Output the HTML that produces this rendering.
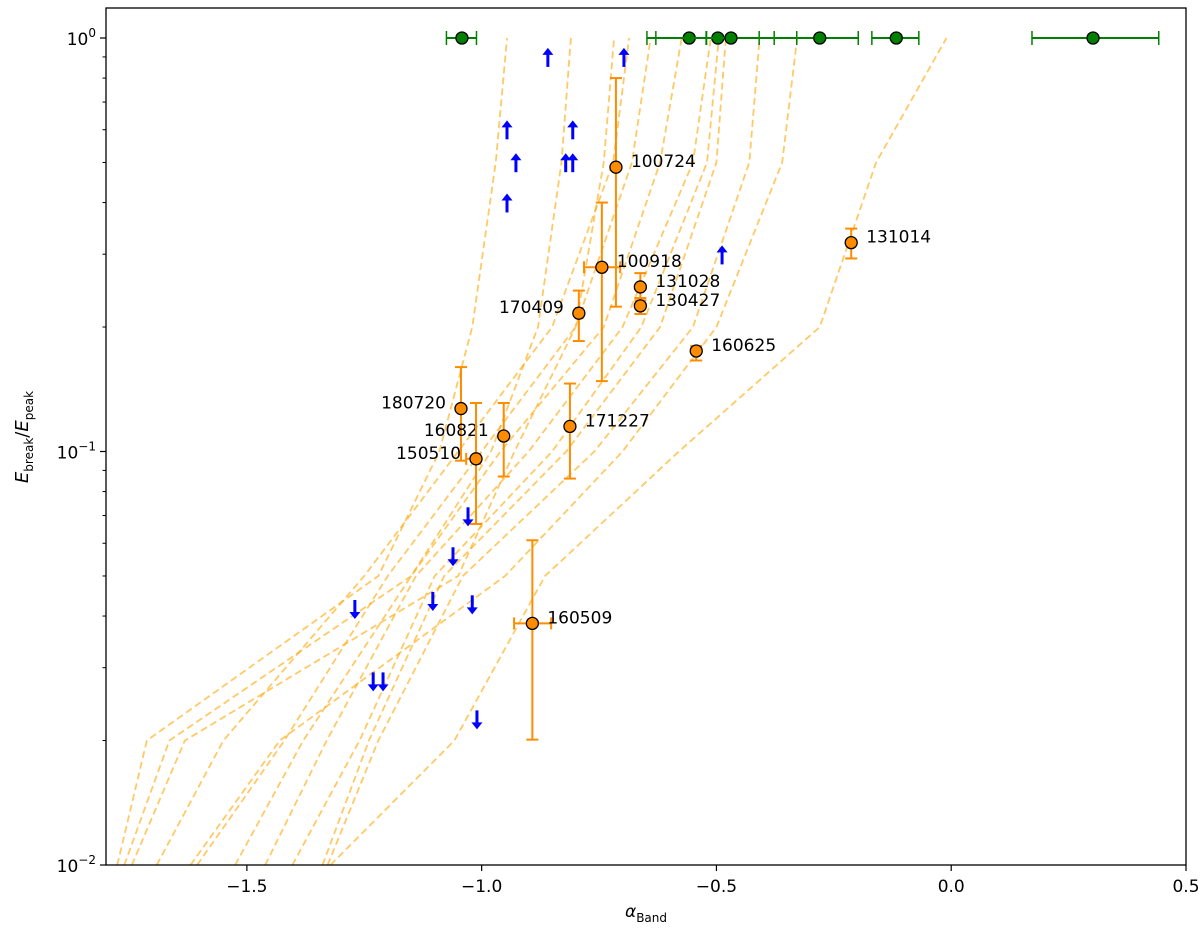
<!DOCTYPE html>
<html><head><meta charset="utf-8"><style>
body{margin:0;background:#fff;}
svg{font-family:"DejaVu Sans","Liberation Sans",sans-serif;}
</style></head><body>
<svg id="chart" width="1200" height="928" xmlns="http://www.w3.org/2000/svg"></svg>
<script>
const ratios=[0.01,0.02,0.05,0.1,0.2,0.5,1.0];
const track1=[-1.776,-1.713,-1.22,-1.09,-1.02,-0.97,-0.946];
const track2=[-1.761,-1.665,-1.15,-0.98,-0.88,-0.83,-0.810];
const track3=[-1.745,-1.632,-1.05,-0.93,-0.80,-0.74,-0.718];
const track4=[-1.692,-1.55,-1.25,-1.05,-0.85,-0.72,-0.686];
const track5=[-1.606,-1.42,-1.20,-1.00,-0.80,-0.68,-0.640];
const track6=[-1.525,-1.38,-1.15,-0.96,-0.74,-0.62,-0.574];
const track7=[-1.461,-1.33,-1.14,-0.90,-0.70,-0.55,-0.512];
const track8=[-1.403,-1.26,-1.10,-0.85,-0.66,-0.52,-0.495];
const track9=[-1.339,-1.24,-1.08,-0.82,-0.62,-0.50,-0.480];
const track10=[-1.328,-1.22,-1.04,-0.76,-0.55,-0.43,-0.408];
const track11=[-1.62,-1.43,-0.95,-0.70,-0.50,-0.36,-0.328];
const track12=[-1.322,-1.058,-0.865,-0.58,-0.28,-0.16,-0.010];
const tracks=[track1,track2,track3,track4,track5,track6,track7,track8,track9,track10,track11,track12];

const grbNames=["100724","100918","131028","130427","170409","131014","160625","180720","160821","150510","171227","160509"];
const grbAlpha=[-0.714,-0.744,-0.662,-0.662,-0.793,-0.213,-0.543,-1.044,-0.953,-1.012,-0.812,-0.892];
const grbAlphaLo=[-0.714,-0.782,-0.662,-0.662,-0.800,-0.213,-0.543,-1.044,-0.953,-1.033,-0.812,-0.931];
const grbAlphaHi=[-0.714,-0.705,-0.662,-0.662,-0.785,-0.213,-0.543,-1.044,-0.953,-1.003,-0.812,-0.852];
const grbRatio=[0.487,0.279,0.250,0.225,0.216,0.320,0.175,0.127,0.109,0.096,0.115,0.0384];
const grbRatioLo=[0.224,0.148,0.232,0.215,0.185,0.293,0.166,0.095,0.087,0.0668,0.086,0.0201];
const grbRatioHi=[0.80,0.40,0.27,0.235,0.245,0.346,0.18,0.16,0.131,0.131,0.146,0.061];
const labelSide=["R","R","R","R","L","R","R","L","L","L","R","R"];

const greenAlpha=[-1.042,-0.558,-0.497,-0.469,-0.280,-0.117,0.302];
const greenLo=[-1.075,-0.648,-0.629,-0.521,-0.377,-0.169,0.172];
const greenHi=[-1.011,-0.409,-0.522,-0.329,-0.198,-0.069,0.442];

const upAlpha=[-0.859,-0.697,-0.946,-0.806,-0.927,-0.821,-0.806,-0.946,-0.488];
const upRatio=[0.895,0.895,0.598,0.598,0.498,0.498,0.498,0.398,0.298];
const downAlpha=[-1.029,-1.061,-1.270,-1.104,-1.020,-1.231,-1.210,-1.010];
const downRatio=[0.0697,0.0558,0.0416,0.0435,0.0427,0.0278,0.0278,0.0225];

const xTicks=[-1.5,-1.0,-0.5,0.0,0.5];
const xTickLabels=["\u22121.5","\u22121.0","\u22120.5","0.0","0.5"];

const L=106,R=1186,T=8,B=865;
const X=a=>L+(a+1.8)*(R-L)/2.3;
const Y=r=>38-Math.log10(r)*413.5;
const svg=document.getElementById('chart');
const NS="http://www.w3.org/2000/svg";
function mk(tag,attrs,parent){const e=document.createElementNS(NS,tag);for(const k in attrs)e.setAttribute(k,attrs[k]);(parent||svg).appendChild(e);return e;}

const clip=mk('clipPath',{id:'pc'});mk('rect',{x:L,y:T,width:R-L,height:B-T},clip);
const gl=mk('g',{'clip-path':'url(#pc)'});


tracks.forEach((t,i)=>{
  const p=mk('polyline',{points:t.map((a,j)=>X(a)+','+Y(ratios[j])).join(' '),fill:'none',stroke:'#ffa500','stroke-opacity':0.6,'stroke-width':1.8,'stroke-dasharray':'7,4'},gl);
  
  
});

greenAlpha.forEach((a,i)=>{
  const g=mk('g',{});
  
  
  const y=Y(1);
  mk('line',{x1:X(greenLo[i]),x2:X(greenHi[i]),y1:y,y2:y,stroke:'green','stroke-width':2},g);
  [greenLo[i],greenHi[i]].forEach(v=>mk('line',{x1:X(v),x2:X(v),y1:y-7,y2:y+7,stroke:'green','stroke-width':1.5},g));
  mk('circle',{cx:X(a),cy:y,r:6,fill:'green',stroke:'#000','stroke-width':1.3},g);
});

grbNames.forEach((n,i)=>{
  const g=mk('g',{});
  
  
  const x=X(grbAlpha[i]),y=Y(grbRatio[i]);
  const y1=Y(grbRatioHi[i]),y2=Y(grbRatioLo[i]);
  mk('line',{x1:x,x2:x,y1:y1,y2:y2,stroke:'#ff8c00','stroke-width':2},g);
  mk('line',{x1:x-6,x2:x+6,y1:y1,y2:y1,stroke:'#ff8c00','stroke-width':2},g);
  mk('line',{x1:x-6,x2:x+6,y1:y2,y2:y2,stroke:'#ff8c00','stroke-width':2},g);
  const xa=X(grbAlphaLo[i]),xb=X(grbAlphaHi[i]);
  if(xb-xa>2){
    mk('line',{x1:xa,x2:xb,y1:y,y2:y,stroke:'#ff8c00','stroke-width':2},g);
    mk('line',{x1:xa,x2:xa,y1:y-6,y2:y+6,stroke:'#ff8c00','stroke-width':2},g);
    mk('line',{x1:xb,x2:xb,y1:y-6,y2:y+6,stroke:'#ff8c00','stroke-width':2},g);
  }
  mk('circle',{cx:x,cy:y,r:6,fill:'#ff8c00',stroke:'#000','stroke-width':1.3},g);
  const side=labelSide[i];
  const t=mk('text',{x:side==='R'?x+15:x-15,y:y,'font-size':17,fill:'#000','text-anchor':side==='R'?'start':'end'},g);
  t.textContent=n;
  
  
});

function arrow(a,r,up,i){
  const g=mk('g',{});
  
  
  const x=X(a),y=Y(r),d=up?-1:1;
  mk('line',{x1:x,x2:x,y1:y-9*d,y2:y+7*d,stroke:'blue','stroke-width':3},g);
  mk('polygon',{points:`${x},${y+10*d} ${x-5.5},${y+3*d} ${x+5.5},${y+3*d}`,fill:'blue'},g);
}
upAlpha.forEach((a,i)=>arrow(a,upRatio[i],true,i));
downAlpha.forEach((a,i)=>arrow(a,downRatio[i],false,i));

const fr=mk('rect',{x:L,y:T,width:R-L,height:B-T,fill:'none',stroke:'#000','stroke-width':1.3});



xTicks.forEach((v,i)=>{
  const x=X(v);
  mk('line',{x1:x,x2:x,y1:B,y2:B+6,stroke:'#000','stroke-width':1.2});
  const t=mk('text',{x:x,y:B+27,'font-size':17,'text-anchor':'middle'});
  t.textContent=xTickLabels[i];
  
  
});
[-2,-1,0].forEach(e=>{
  const y=Y(Math.pow(10,e));
  mk('line',{x1:L-6,x2:L,y1:y,y2:y,stroke:'#000','stroke-width':1.2});
  const t=mk('text',{x:L-10,y:y+7,'font-size':17,'text-anchor':'end'});
  t.innerHTML='10<tspan dy="-8" font-size="12">'+(e<0?'\u2212'+(-e):e)+'</tspan>';
  
  
});
[-2,-1].forEach(e=>{for(let m=2;m<=9;m++){const y=Y(m*Math.pow(10,e));if(y>T)mk('line',{x1:L-3.5,x2:L,y1:y,y2:y,stroke:'#000','stroke-width':1});}});
const xt=mk('text',{x:646,y:917,'font-size':17,'text-anchor':'middle','font-style':'italic'});
xt.innerHTML='α<tspan dy="5" font-size="12" font-style="normal">Band</tspan>';


const yt=mk('text',{x:0,y:0,'font-size':18,'text-anchor':'middle',transform:'translate(28,437) rotate(-90)'});
yt.innerHTML='<tspan font-style="italic">E</tspan><tspan dy="5" font-size="12">break</tspan><tspan dy="-5">/</tspan><tspan font-style="italic">E</tspan><tspan dy="5" font-size="12">peak</tspan>';


</script>
</body></html>
